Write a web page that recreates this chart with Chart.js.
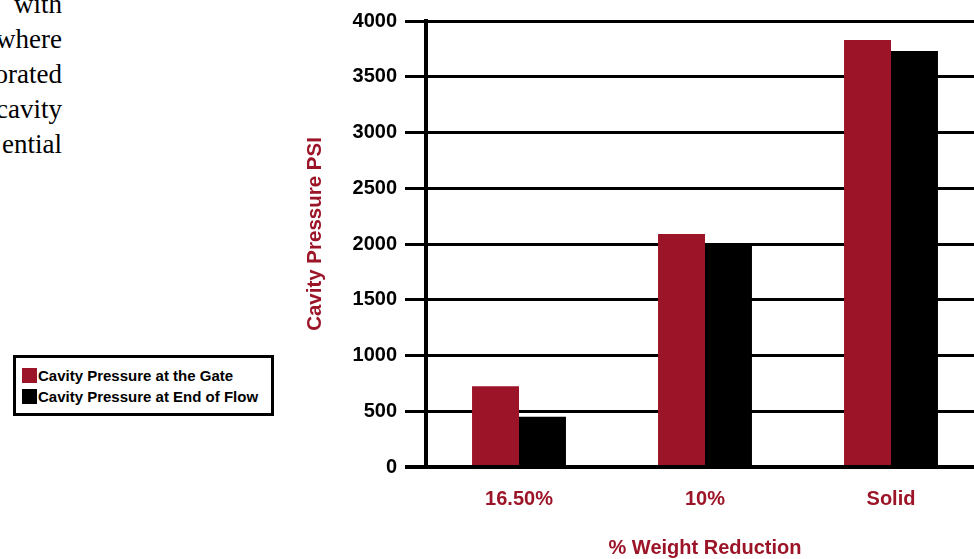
<!DOCTYPE html>
<html>
<head>
<meta charset="utf-8">
<script src="https://cdn.jsdelivr.net/npm/chart.js@4.4.1/dist/chart.umd.min.js"></script>
<style>
  html, body { margin: 0; padding: 0; overflow: hidden; background: #fff; }
  body { width: 974px; height: 559px; position: relative; }
  #wrap { position: absolute; left: 0; top: 0; width: 1000px; height: 559px; }
  #prose {
    position: absolute; left: -140px; top: -13px; width: 202px;
    text-align: right; font: 27px/35px "Liberation Serif", "Times New Roman", serif; color: #000;
  }
  #legend {
    position: absolute; left: 13px; top: 355px; width: 255px; height: 55px;
    border: 3px solid #000; background: #fff;
    font: bold 15px "Liberation Sans", Arial, sans-serif; color: #000;
  }
  #legend .row { position: absolute; left: 6px; height: 18px; line-height: 18px; white-space: nowrap; }
  #legend .sw { display: inline-block; width: 15px; height: 15px; vertical-align: -2px; margin-right: 1px; }
</style>
</head>
<body>
<div id="prose">with<br>where<br>orated<br>cavity<br>ential</div>
<div id="wrap"><canvas id="chart" width="1000" height="559"></canvas></div>
<div id="legend"></div>
<script>
const categories = ["16.50%", "10%", "Solid"];
const gateValues = [725, 2090, 3830];
const endOfFlowValues = [450, 2010, 3730];
const seriesNames = ["Cavity Pressure at the Gate", "Cavity Pressure at End of Flow"];
const yTicks = [0, 500, 1000, 1500, 2000, 2500, 3000, 3500, 4000];
const yTitle = "Cavity Pressure PSI";

const RED = "#9c1427";
const FONT = "'Liberation Sans', Arial, sans-serif";

// y title drawn by hand: it sits a bit above the middle of the axis
const yTitlePlugin = {
  id: "yTitle",
  afterDraw(chart) {
    const c = chart.ctx;
    c.save();
    c.translate(315, 234);
    c.rotate(-Math.PI / 2);
    c.font = "bold 20.5px " + FONT;
    c.fillStyle = RED;
    c.textAlign = "center";
    c.textBaseline = "middle";
    c.fillText(yTitle, 0, 0);
    c.restore();
  },
};

const ctx = document.getElementById("chart").getContext("2d");
const chart = new Chart(ctx, {
  type: "bar",
  data: {
    labels: categories,
    datasets: [
      { label: seriesNames[0], data: gateValues, backgroundColor: RED },
      { label: seriesNames[1], data: endOfFlowValues, backgroundColor: "#000" },
    ],
  },
  plugins: [yTitlePlugin],
  options: {
    responsive: false,
    animation: false,
    layout: { padding: { left: 298, right: 16, top: 21, bottom: 1 } },
    datasets: { bar: { categoryPercentage: 0.505, barPercentage: 1 } },
    plugins: { legend: { display: false }, tooltip: { enabled: false } },
    scales: {
      x: {
        grid: { display: false },
        border: { display: false },
        ticks: { color: RED, padding: 12, font: { family: FONT, size: 20, weight: "bold" } },
        title: {
          display: true,
          text: "% Weight Reduction",
          color: RED,
          padding: 0,
          font: { family: FONT, size: 20, weight: "bold", lineHeight: 1 },
        },
        afterFit: (scale) => { scale.height = 91; },
      },
      y: {
        min: 0,
        max: 4000,
        afterBuildTicks: (scale) => { scale.ticks = yTicks.map((v) => ({ value: v })); },
        grid: {
          color: "#000",
          lineWidth: (c) => (c.tick && c.tick.value === 0 ? 4 : 3),
          tickLength: 21,
        },
        border: { color: "#000", width: 4 },
        ticks: {
          color: "#000",
          padding: 8,
          font: { family: FONT, size: 20, weight: "bold" },
          callback: (v) => String(v),
        },
        afterFit: (scale) => { scale.width = 128; },
      },
    },
  },
});

// legend built from the chart's datasets
const legend = document.getElementById("legend");
chart.data.datasets.forEach((ds, i) => {
  const row = document.createElement("div");
  row.className = "row";
  row.style.top = (9 + i * 21) + "px";
  row.innerHTML = '<span class="sw" style="background:' + ds.backgroundColor + '"></span>' + ds.label;
  legend.appendChild(row);
});
</script>
</body>
</html>
